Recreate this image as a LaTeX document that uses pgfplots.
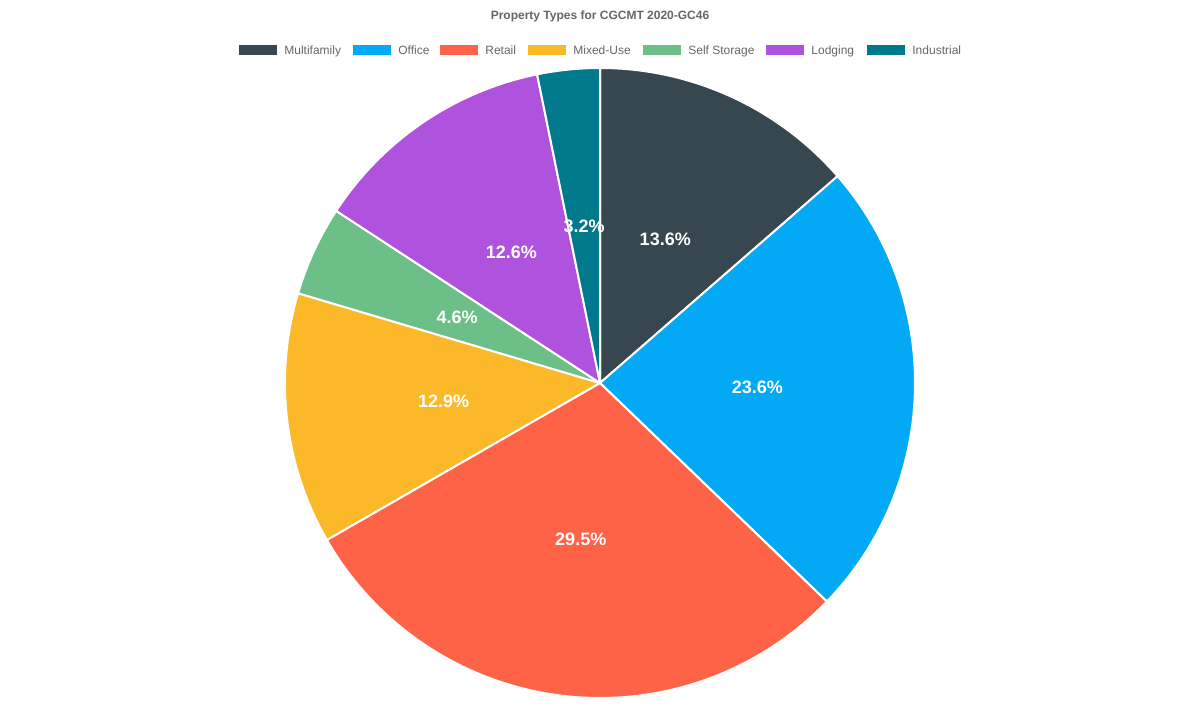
\documentclass[border=0pt]{standalone}
\usepackage{pgfplots}
\pgfplotsset{compat=1.18}
\usepackage{fontspec}
\setmainfont{Liberation Sans}
\definecolor{cMulti}{HTML}{37474F}
\definecolor{cOffice}{HTML}{03A9F4}
\definecolor{cRetail}{HTML}{FF6347}
\definecolor{cMixed}{HTML}{FBB829}
\definecolor{cSelf}{HTML}{6BBF87}
\definecolor{cLodging}{HTML}{AF52DE}
\definecolor{cInd}{HTML}{00798C}
\definecolor{txtgray}{HTML}{666666}
\begin{document}
\begin{tikzpicture}
\path (0,0) rectangle (600pt,350pt);
% title
\node[font=\fontsize{6}{7}\selectfont\bfseries, text=txtgray] at (300pt,342pt) {Property Types for CGCMT 2020-GC46};
% legend (box left edge in px / text left edge in px)
\foreach \bx/\c/\t in {239/cMulti/Multifamily, 353/cOffice/Office, 440/cRetail/Retail, 528/cMixed/Mixed-Use, 643/cSelf/Self Storage, 766/cLodging/Lodging, 867/cInd/Industrial}{
  \fill[\c] (\bx*0.5pt,322.5pt) rectangle ++(19pt,5pt);
  \node[anchor=base west, inner sep=0pt, font=\fontsize{6}{7}\selectfont, text=txtgray] at (\bx*0.5pt+22.5pt,322.85pt) {\t};
}
\begin{axis}[
  at={(300pt,158.5pt)}, anchor=center,
  scale only axis, width=315pt, height=315pt,
  hide axis, clip=false,
  xmin=-1, xmax=1, ymin=-1, ymax=1,
]
\pgfplotsextra{
  \xdef\startA{90}
  \foreach \v/\c in {13.6/cMulti, 23.6/cOffice, 29.5/cRetail, 12.9/cMixed, 4.6/cSelf, 12.6/cLodging, 3.2/cInd}{
    \pgfmathsetmacro\endA{\startA-3.6*\v}
    \pgfmathsetmacro\sx{cos(\startA)}
    \pgfmathsetmacro\sy{sin(\startA)}
    \filldraw[fill=\c, draw=white, line width=1pt, line join=round]
      (axis cs:0,0) -- (axis cs:\sx,\sy) arc[start angle=\startA, end angle=\endA, radius=157.5pt] -- cycle;
    \xdef\startA{\endA}
  }
  \xdef\startA{90}
  \foreach \v in {13.6, 23.6, 29.5, 12.9, 4.6, 12.6, 3.2}{
    \pgfmathsetmacro\endA{\startA-3.6*\v}
    \pgfmathsetmacro\mx{0.5*cos((\startA+\endA)/2)}
    \pgfmathsetmacro\my{0.5*sin((\startA+\endA)/2)}
    \node[text=white, font=\fontsize{9}{10}\selectfont\bfseries] at (axis cs:\mx,\my) {\v\%};
    \xdef\startA{\endA}
  }
}
\end{axis}
\end{tikzpicture}
\end{document}
